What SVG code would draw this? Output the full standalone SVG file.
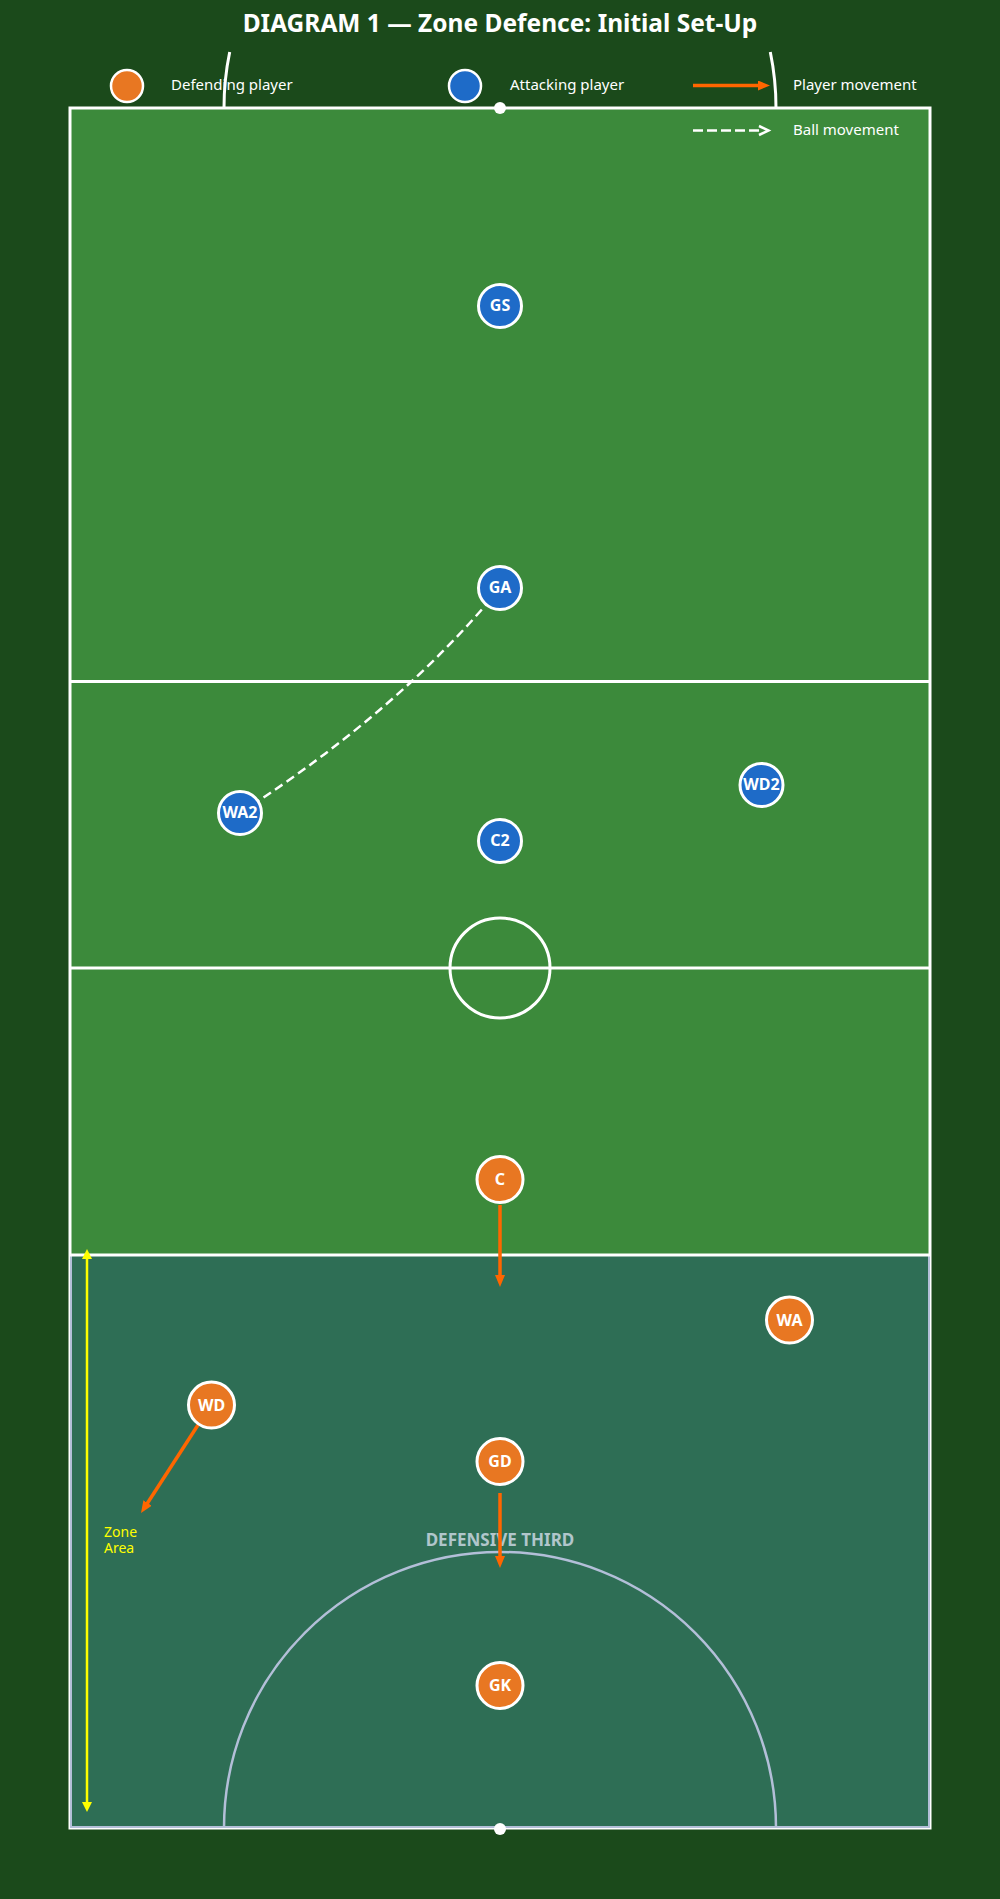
<svg xmlns="http://www.w3.org/2000/svg" width="1000" height="1899" viewBox="0 0 1000 1899">
  <defs>
    <style>
      .txt { font-family: "Noto Sans", "Open Sans", "Liberation Sans", sans-serif; }
      .bold { font-family: "Noto Sans", "Open Sans", "Liberation Sans", sans-serif; font-weight: bold; }
      .title { font-size: 24.5px; fill: #ffffff; }
      .legend { font-size: 15px; fill: #ffffff; }
      .line { stroke: #ffffff; stroke-width: 3; fill: none; }
      .def circle { fill: #e87722; stroke: #ffffff; stroke-width: 3; }
      .att circle { fill: #1e6bc8; stroke: #ffffff; stroke-width: 3; }
      .def text { font-size: 16px; fill: #ffffff; text-anchor: middle; }
      .att text { font-size: 16px; fill: #ffffff; text-anchor: middle; }
      .move { stroke: #ff6600; stroke-width: 3.5; fill: none; marker-end: url(#orangeHead); }
      .ball { stroke: #ffffff; stroke-width: 2.5; fill: none; stroke-dasharray: 9 5; }
    </style>
    <marker id="orangeHead" viewBox="0 0 12 10" refX="6" refY="5" markerWidth="12" markerHeight="10" markerUnits="userSpaceOnUse" orient="auto">
      <path d="M0,0 L12,5 L0,10 z" fill="#ff6600"/>
    </marker>
    <marker id="yellowHead" viewBox="0 0 10 10" refX="5" refY="5" markerWidth="10" markerHeight="10" markerUnits="userSpaceOnUse" orient="auto-start-reverse">
      <path d="M0,0 L10,5 L0,10 z" fill="#ffff00"/>
    </marker>
  </defs>

  <!-- background -->
  <rect x="0" y="0" width="1000" height="1899" fill="#1b4a1b"/>

  <!-- title -->
  <text class="bold title" x="500" y="32" text-anchor="middle">DIAGRAM 1 — Zone Defence: Initial Set-Up</text>

  <!-- legend -->
  <g id="legend">
    <circle cx="127" cy="86" r="16" fill="#e87722" stroke="#ffffff" stroke-width="2.5"/>
    <text class="txt legend" x="171" y="90">Defending player</text>
    <circle cx="465" cy="86" r="16" fill="#1e6bc8" stroke="#ffffff" stroke-width="2.5"/>
    <text class="txt legend" x="510" y="90">Attacking player</text>
    <line x1="693" y1="85.5" x2="764" y2="85.5" stroke="#ff6600" stroke-width="3.5" marker-end="url(#orangeHead)"/>
    <text class="txt legend" x="793" y="90">Player movement</text>
  </g>

  <!-- court -->
  <g id="court">
    <rect x="70" y="108" width="860" height="1720" fill="#3c8a3b" stroke="#ffffff" stroke-width="3"/>
    <rect x="71" y="1255" width="858" height="572" fill="#2e6e55" stroke="#b3bfd8" stroke-width="2"/>
    <path d="M224,1828 A276,276 0 0 1 776,1828" fill="none" stroke="#b3bfd8" stroke-width="2.5"/>
    <path class="line" d="M224,108 A276,276 0 0 1 229.7,52"/>
    <path class="line" d="M776,108 A276,276 0 0 0 770.3,52" />
    <line class="line" x1="70" y1="681.5" x2="930" y2="681.5"/>
    <line class="line" x1="70" y1="968" x2="930" y2="968"/>
    <line class="line" x1="70" y1="1255" x2="930" y2="1255"/>
    <circle class="line" cx="500" cy="968" r="50" stroke-width="2.5"/>
    <circle cx="500" cy="108" r="6" fill="#ffffff"/>
    <circle cx="500" cy="1829" r="6" fill="#ffffff"/>
    <text class="bold" x="500" y="1546" text-anchor="middle" font-size="17" fill="#c8d6e0" opacity="0.85">DEFENSIVE THIRD</text>
  </g>

  <!-- ball movement legend (inside court area) -->
  <g id="legend-ball">
    <line x1="693" y1="130.5" x2="762" y2="130.5" stroke="#ffffff" stroke-width="2.5" stroke-dasharray="10 4"/>
    <polyline points="759,126 768.5,130.5 759,135" fill="none" stroke="#ffffff" stroke-width="2.5"/>
    <text class="txt legend" x="793" y="135">Ball movement</text>
  </g>

  <!-- zone area indicator -->
  <g id="zone-area">
    <line x1="87" y1="1254" x2="87" y2="1807" stroke="#ffff00" stroke-width="2.5" marker-start="url(#yellowHead)" marker-end="url(#yellowHead)"/>
    <text class="txt" x="104" y="1537" font-size="14" fill="#ffff00">Zone</text>
    <text class="txt" x="104" y="1553" font-size="14" fill="#ffff00">Area</text>
  </g>

  <!-- connectors -->
  <g id="connectors">
    <path class="ball" d="M240,813 Q400,710 500,588"/>
    <line class="move" x1="500" y1="1205" x2="500" y2="1281"/>
    <line class="move" x1="500" y1="1493" x2="500" y2="1562"/>
    <line class="move" x1="198" y1="1425" x2="144.3" y2="1508"/>
  </g>

  <!-- attacking players -->
  <g id="node-GS" class="att"><circle cx="500" cy="306" r="21.5"/><text class="bold" x="500" y="311">GS</text></g>
  <g id="node-GA" class="att"><circle cx="500" cy="588" r="21.5"/><text class="bold" x="500" y="593">GA</text></g>
  <g id="node-WA2" class="att"><circle cx="240" cy="813" r="21.5"/><text class="bold" x="240" y="818">WA2</text></g>
  <g id="node-C2" class="att"><circle cx="500" cy="841" r="21.5"/><text class="bold" x="500" y="846">C2</text></g>
  <g id="node-WD2" class="att"><circle cx="761.5" cy="785" r="21.5"/><text class="bold" x="761.5" y="790">WD2</text></g>

  <!-- defending players -->
  <g id="node-C" class="def"><circle cx="500" cy="1179.5" r="23"/><text class="bold" x="500" y="1185">C</text></g>
  <g id="node-WA" class="def"><circle cx="789.5" cy="1320" r="23"/><text class="bold" x="789.5" y="1325.5">WA</text></g>
  <g id="node-WD" class="def"><circle cx="211.5" cy="1405" r="23"/><text class="bold" x="211.5" y="1410.5">WD</text></g>
  <g id="node-GD" class="def"><circle cx="500" cy="1461.5" r="23"/><text class="bold" x="500" y="1467">GD</text></g>
  <g id="node-GK" class="def"><circle cx="500" cy="1685.5" r="23"/><text class="bold" x="500" y="1691">GK</text></g>
</svg>
